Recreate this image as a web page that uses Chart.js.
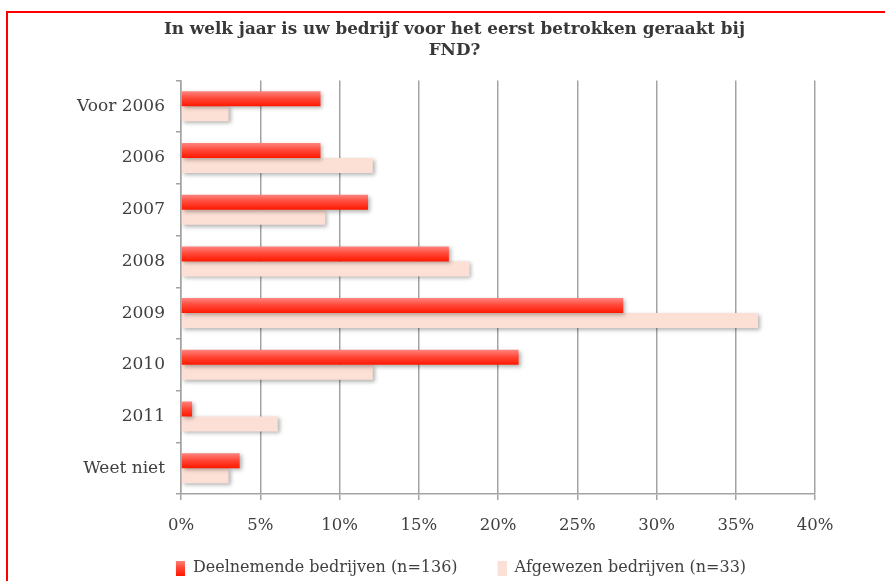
<!DOCTYPE html>
<html>
<head>
<meta charset="utf-8">
<script src="https://cdn.jsdelivr.net/npm/chart.js@4/dist/chart.umd.min.js"></script>
<style>
  html, body { margin: 0; padding: 0; background: #ffffff; overflow: hidden; width: 885px; height: 581px; }
  #wrap { position: relative; width: 885px; height: 581px; overflow: hidden; }
  #wrap canvas { position: absolute; left: 0; top: 0; }
  #frame { position: absolute; left: 6px; top: 11px; right: -4px; bottom: -4px;
           border-left: 2px solid #ff0000; border-top: 2px solid #ff0000; pointer-events: none; }
</style>
</head>
<body>
<div id="wrap">
  <canvas id="chart" width="885" height="586"></canvas>
  <div id="frame"></div>
</div>
<script>
// Survey answers: share of companies per year of first involvement (%)
const categories = ['Voor 2006', '2006', '2007', '2008', '2009', '2010', '2011', 'Weet niet'];
const deelnemend = [8.8, 8.8, 11.8, 16.9, 27.9, 21.3, 0.7, 3.7];   // n = 136
const afgewezen  = [3.0, 12.1, 9.1, 18.2, 36.4, 12.1, 6.1, 3.0];   // n = 33
const seriesNames = ['Deelnemende bedrijven (n=136)', 'Afgewezen bedrijven (n=33)'];
const titleLines = ['In welk jaar is uw bedrijf voor het eerst betrokken geraakt bij', 'FND?'];
const xMax = 40;
const xStep = 5;

const FONT = "'DejaVu Serif', Georgia, serif";
const TEXT = '#404040';
const GRID = '#a3a3a3';
const PEACH = '#fde0d5';
const CAT_PCT = 0.58;

// vertical red gradient for one bar, placed over the bar's own pixel band
function redGradient(ctx2d, top, bottom) {
  const g = ctx2d.createLinearGradient(0, top, 0, bottom);
  g.addColorStop(0, '#ff8580');
  g.addColorStop(0.45, '#ff4a3a');
  g.addColorStop(1, '#ff1800');
  return g;
}

function redFill(c) {
  const chart = c.chart;
  const y = chart.scales && chart.scales.y;
  if (!y || !y.height || c.type !== 'data') return '#ff3020';
  const center = y.getPixelForValue(c.dataIndex);
  const thick = (y.height / categories.length) * CAT_PCT / 2;
  return redGradient(chart.ctx, center - thick, center);
}

// legend swatches: 9x15 block at the right of a 22px wide cell (left part stays empty)
const SW_W = 22;
function swatch(kind) {
  const cv = document.createElement('canvas');
  cv.width = SW_W; cv.height = 15;
  const x = cv.getContext('2d');
  x.fillStyle = kind === 'red' ? redGradient(x, 0, 15) : PEACH;
  x.fillRect(SW_W - 9, 0, 9, 15);
  return cv;
}
const swatches = [swatch('red'), swatch('peach')];

// soft drop shadow under the bars
const barShadow = {
  id: 'barShadow',
  beforeDatasetDraw(chart) {
    const c = chart.ctx;
    c.save();
    c.shadowColor = 'rgba(0,0,0,0.3)';
    c.shadowBlur = 4;
    c.shadowOffsetX = 2;
    c.shadowOffsetY = 2;
  },
  afterDatasetDraw(chart) {
    chart.ctx.restore();
  }
};

new Chart(document.getElementById('chart'), {
  type: 'bar',
  data: {
    labels: categories,
    datasets: [
      { label: seriesNames[0], data: deelnemend, backgroundColor: redFill,
        categoryPercentage: CAT_PCT, barPercentage: 1.0 },
      { label: seriesNames[1], data: afgewezen, backgroundColor: PEACH,
        categoryPercentage: CAT_PCT, barPercentage: 1.0 }
    ]
  },
  options: {
    indexAxis: 'y',
    responsive: false,
    animation: false,
    devicePixelRatio: 1,
    layout: { padding: { left: 24, right: 0, top: 0, bottom: 0 } },
    scales: {
      x: {
        min: 0, max: xMax,
        border: { display: true, color: GRID, width: 1.5 },
        grid: { color: GRID, lineWidth: 1.5, tickLength: 6, drawTicks: true },
        ticks: { stepSize: xStep, padding: 16, color: TEXT,
                 font: { family: FONT, size: 16.5 },
                 callback: v => v + '%' },
        afterFit(s) { s.height = 39; }
      },
      y: {
        border: { display: true, color: GRID, width: 1.5 },
        grid: { drawOnChartArea: false, color: GRID, lineWidth: 1.5, tickLength: 5 },
        ticks: { padding: 11, color: TEXT, font: { family: FONT, size: 17 } },
        afterFit(s) { s.width = 157; }
      },
      yR: {
        type: 'linear', position: 'right', display: true,
        grid: { display: false }, border: { display: false }, ticks: { display: false },
        afterFit(s) { s.width = 70; }
      }
    },
    plugins: {
      title: {
        display: true,
        text: titleLines,
        color: '#383838',
        font: { family: FONT, size: 16.8, weight: 'bold', lineHeight: 1.25 },
        padding: { top: 19.5, bottom: 19 }
      },
      legend: {
        position: 'bottom',
        labels: {
          usePointStyle: true,
          pointStyleWidth: SW_W,
          boxWidth: SW_W, boxHeight: 15,
          padding: 27,
          color: TEXT,
          font: { family: FONT, size: 16 },
          generateLabels(chart) {
            return chart.data.datasets.map((d, i) => ({
              text: d.label, pointStyle: swatches[i], datasetIndex: i,
              fillStyle: 'transparent', strokeStyle: 'transparent', lineWidth: 0,
              fontColor: TEXT, hidden: false
            }));
          }
        }
      },
      tooltip: { enabled: false }
    }
  },
  plugins: [barShadow]
});
</script>
</body>
</html>
